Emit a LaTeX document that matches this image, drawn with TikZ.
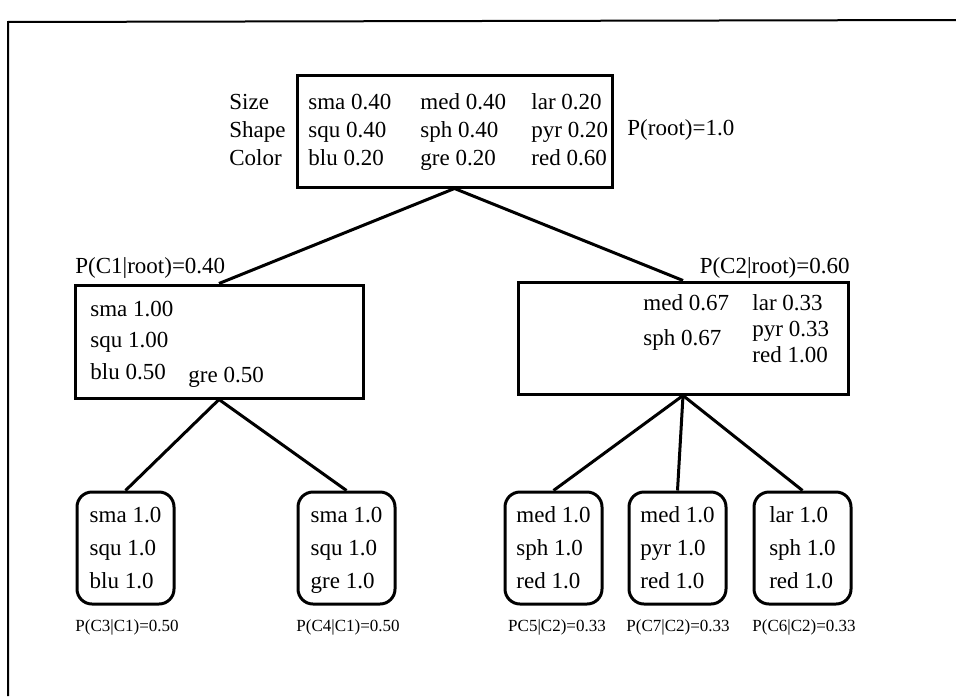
\documentclass[tikz,border=0pt]{standalone}
\usepackage{fontspec}
\setmainfont{Liberation Serif}
\usetikzlibrary{positioning}

\begin{document}
\begin{tikzpicture}[x=0.5pt,y=-0.5pt,
  font=\fontsize{11.5}{14}\selectfont,
  box/.style={draw,line width=1.5pt,inner sep=0pt},
  leaf/.style={box,rounded corners=7.5pt,minimum width=48.5pt,minimum height=56pt,
    align=left,text depth=0pt,font=\fontsize{11.5}{16.5}\selectfont},
  colt/.style={anchor=west,inner sep=0pt,align=left,text depth=0pt,
    font=\fontsize{11.5}{#1}\selectfont},
  prob/.style={inner sep=0pt,font=\fontsize{8.5}{10}\selectfont},
  link/.style={line width=1.5pt}]

  \useasboundingbox (0,0) rectangle (956,696);
  \draw[line width=1pt] (8,696) -- (8,22) -- (956,20);

  % root
  \node[box,minimum width=157.5pt,minimum height=56pt] (root) at (454.5,131) {};
  \node[colt=14pt] (rlab) at (229,130) {Size\\Shape\\Color};
  \node[colt=14pt] (r1) at (308,130) {sma 0.40\\squ 0.40\\blu 0.20};
  \node[colt=14pt] (r2) at (420,130) {med 0.40\\sph 0.40\\gre 0.20};
  \node[colt=14pt] (r3) at (531,130) {lar 0.20\\pyr 0.20\\red 0.60};
  \node[colt=14pt] (proot) at (627,128) {P(root)=1.0};

  % level 1
  \node[box,minimum width=144pt,minimum height=56.5pt] (c1) at (219,341.5) {};
  \node[colt=15.75pt] (c1a) at (90,340) {sma 1.00\\squ 1.00\\blu 0.50};
  \node[colt=14pt] (c1b) at (188,375) {gre 0.50};
  \node[colt=14pt] (pc1) at (75,266) {P(C1|root)=0.40};

  \node[box,minimum width=165pt,minimum height=56pt] (c2) at (683,338) {};
  \node[colt=17.5pt] (c2a) at (643,320) {med 0.67\\sph 0.67};
  \node[colt=13pt] (c2b) at (752,329) {lar 0.33\\pyr 0.33\\red 1.00};
  \node[colt=14pt,anchor=east] (pc2) at (850,266) {P(C2|root)=0.60};

  % leaves
  \node[leaf] (c3) at (125.5,548) {sma 1.0\\squ 1.0\\blu 1.0};
  \node[leaf] (c4) at (346.5,548) {sma 1.0\\squ 1.0\\gre 1.0};
  \node[leaf] (c5) at (553.5,548) {med 1.0\\sph 1.0\\red 1.0};
  \node[leaf] (c7) at (677.5,548) {med 1.0\\pyr 1.0\\red 1.0};
  \node[leaf] (c6) at (802.5,548) {lar 1.0\\sph 1.0\\red 1.0};

  \node[prob] (pc3) at (127,627) {P(C3|C1)=0.50};
  \node[prob] (pc4) at (348,627) {P(C4|C1)=0.50};
  \node[prob] (pc5) at (557,627) {PC5|C2)=0.33};
  \node[prob] (pc7) at (678,627) {P(C7|C2)=0.33};
  \node[prob] (pc6) at (804,627) {P(C6|C2)=0.33};

  \draw[link] (c1.north) -- (root.south) -- (c2.north);
  \draw[link] (c3.north) -- (c1.south) -- (c4.north);
  \draw[link] (c5.north) -- (c2.south) -- (c6.north);
  \draw[link] (c2.south) -- (c7.north);

\end{tikzpicture}
\end{document}
